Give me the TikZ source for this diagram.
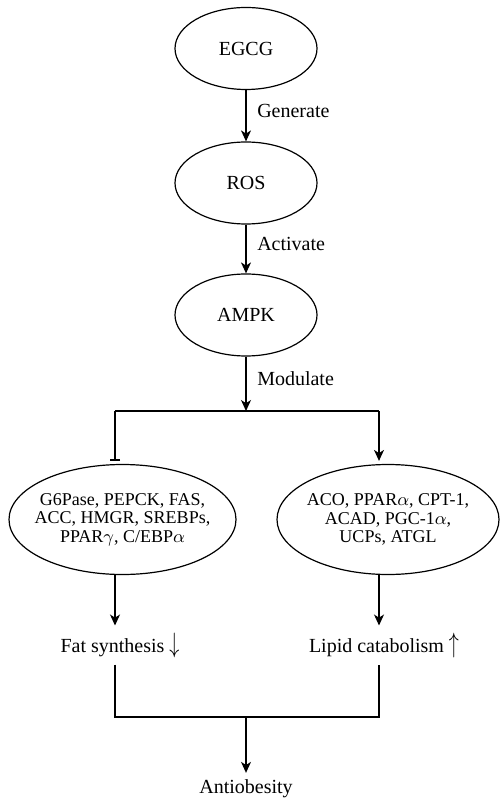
\documentclass[tikz,border=0pt]{standalone}
\usepackage{fontspec}
\setmainfont{Liberation Serif}
\usetikzlibrary{shapes.geometric,arrows.meta}

\begin{document}
\begin{tikzpicture}[x=0.5pt,y=-0.5pt,
    font=\fontsize{10}{12}\selectfont,
    oval/.style={draw,ellipse,line width=0.6pt,inner sep=0pt,minimum width=71pt,minimum height=41pt},
    genes/.style={draw,ellipse,line width=0.6pt,inner xsep=-6pt,inner ysep=0pt,minimum height=55pt,align=center,font=\fontsize{9}{9.2}\selectfont},
    flow/.style={line width=0.6pt,-{Stealth[length=5.5pt,width=5pt,inset=1.6pt]}},
    block/.style={line width=0.6pt,-{Bar[width=5pt,line width=0.8pt]}},
    link/.style={line width=0.6pt},
    verb/.style={right=2pt,pos=0.4}]

    \useasboundingbox (0,0) rectangle (500,801);

    \node[oval] (egcg) at (246,48.5) {EGCG};
    \node[oval] (ros) at (246,183) {ROS};
    \node[oval] (ampk) at (246,315) {AMPK};

    \draw[flow] (egcg) -- node[verb] {Generate} (ros);
    \draw[flow] (ros) -- node[verb] {Activate} (ampk);

    \coordinate (split) at (246,411);
    \coordinate (splitL) at (115,411);
    \coordinate (splitR) at (379,411);
    \draw[flow] (ampk) -- node[verb] {Modulate} (split);
    \draw[link] (splitL) -- (splitR);

    \node[genes,minimum width=113.5pt] (fatgenes) at (122.5,519.5)
        {G6Pase, PEPCK, FAS,\\ACC, HMGR, SREBPs,\\PPAR$\gamma$, C/EBP$\alpha$};
    \node[genes,minimum width=111pt] (lipgenes) at (388,519.5)
        {ACO, PPAR$\alpha$, CPT-1,\\ACAD, PGC-1$\alpha$,\\UCPs, ATGL};

    \draw[block,shorten >=1.5pt] (splitL) -- (splitL |- fatgenes.north);
    \draw[flow,shorten >=1.5pt] (splitR) -- (splitR |- lipgenes.north);

    \node (fatout) at (120,645) {Fat synthesis \scalebox{1}[1.4]{$\downarrow$}};
    \node (lipout) at (384,645) {Lipid catabolism \scalebox{1}[1.4]{$\uparrow$}};

    \draw[flow] (splitL |- fatgenes.south) -- (splitL |- fatout.north);
    \draw[flow] (splitR |- lipgenes.south) -- (splitR |- lipout.north);

    \coordinate (join) at (246,717);
    \coordinate (joinL) at (115,717);
    \coordinate (joinR) at (379,717);
    \draw[link] (splitL |- fatout.south) -- (joinL) -- (joinR) -- (splitR |- lipout.south);

    \node (anti) at (246,789) {Antiobesity};
    \draw[flow] (join) -- (anti);

\end{tikzpicture}
\end{document}
